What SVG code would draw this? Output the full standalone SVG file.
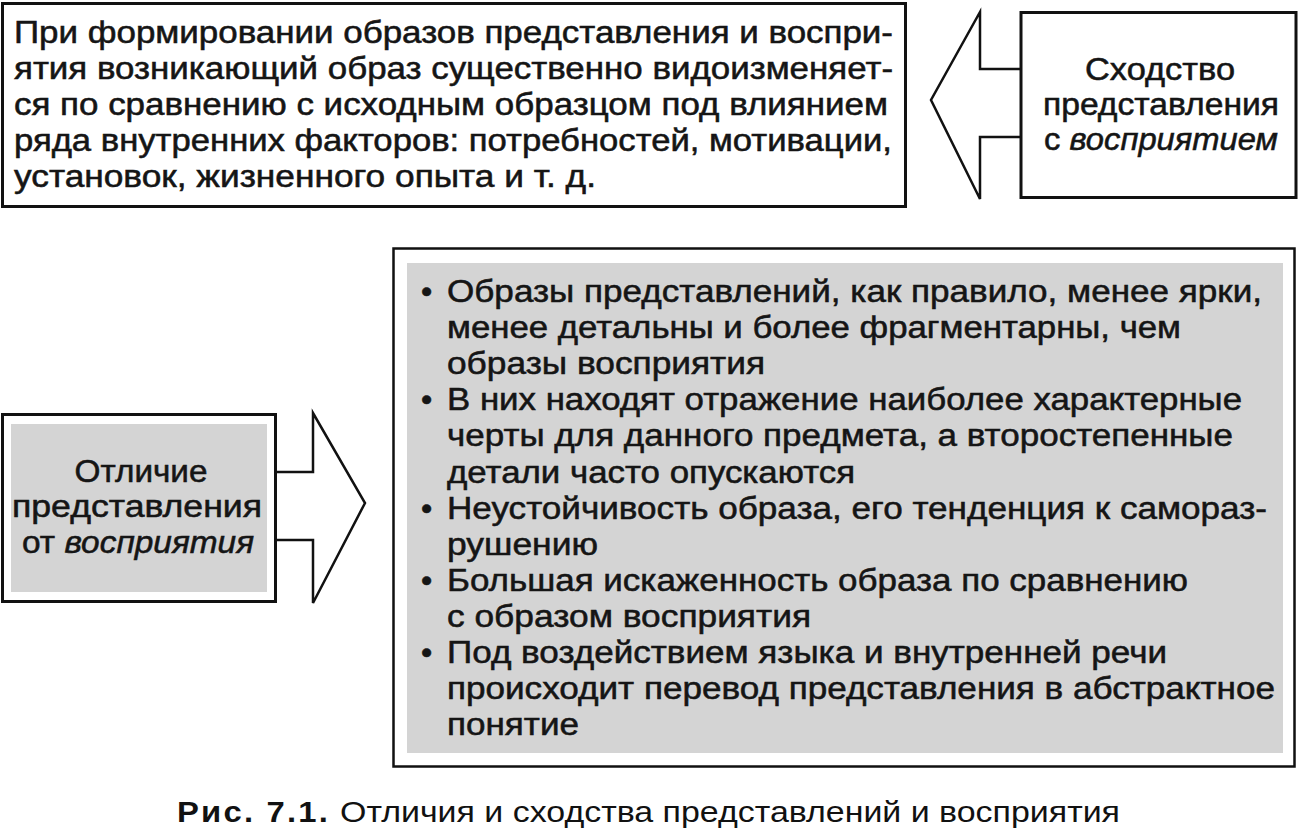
<svg xmlns="http://www.w3.org/2000/svg" width="1299" height="837" viewBox="0 0 1299 837">
<style>
.t{font-family:"Liberation Sans",Arial,sans-serif;font-size:32px;fill:#151515;stroke:#151515;stroke-width:0.55}
.c{text-anchor:middle}
.i{font-style:italic}
.box{fill:#fff;stroke:#111;stroke-width:3}
.gray{fill:#d4d4d4;stroke:none}
.arr{fill:#fff;stroke:#111;stroke-width:2.5;stroke-linejoin:miter}
.cap{font-family:"Liberation Sans",Arial,sans-serif;font-size:30px;fill:#111}
</style>
<rect width="1299" height="837" fill="#fff"/>
<g id="connectors">
<polygon class="arr" points="1022,69 980,69 980,12 931,100 980,199 980,137 1022,137"/>
<polygon class="arr" points="275,472 313,472 313,413 365,503 313,603 313,540 275,540"/>
</g>
<g id="top-text-box">
<rect class="box" x="2.5" y="3.5" width="903" height="203"/>
<text class="t" x="14" y="43" textLength="879" lengthAdjust="spacingAndGlyphs">При формировании образов представления и воспри-</text>
<text class="t" x="14" y="79" textLength="879" lengthAdjust="spacingAndGlyphs">ятия возникающий образ существенно видоизменяет-</text>
<text class="t" x="14" y="115" textLength="874" lengthAdjust="spacingAndGlyphs">ся по сравнению с исходным образцом под влиянием</text>
<text class="t" x="14" y="151" textLength="878" lengthAdjust="spacingAndGlyphs">ряда внутренних факторов: потребностей, мотивации,</text>
<text class="t" x="14" y="187" textLength="582" lengthAdjust="spacingAndGlyphs">установок, жизненного опыта и т. д.</text>
</g>
<g id="similarity">
<rect class="box" x="1021" y="12.5" width="275" height="185"/>
<text class="t c" x="1160" y="80" textLength="150" lengthAdjust="spacingAndGlyphs">Сходство</text>
<text class="t c" x="1161" y="115" textLength="236" lengthAdjust="spacingAndGlyphs">представления</text>
<text class="t c" x="1161" y="150" textLength="234" lengthAdjust="spacingAndGlyphs">с <tspan class="i">восприятием</tspan></text>
</g>
<g id="difference">
<rect class="box" x="2.5" y="414.5" width="273" height="187"/>
<rect class="gray" x="11" y="424" width="256" height="168"/>
<text class="t c" x="141" y="482" textLength="133" lengthAdjust="spacingAndGlyphs">Отличие</text>
<text class="t c" x="137" y="517" textLength="250" lengthAdjust="spacingAndGlyphs">представления</text>
<text class="t c" x="138" y="553" textLength="232" lengthAdjust="spacingAndGlyphs">от <tspan class="i">восприятия</tspan></text>
</g>
<g id="features">
<rect class="box" x="393.5" y="248.5" width="901" height="518" style="stroke-width:2.5"/>
<rect class="gray" x="407" y="263" width="876" height="490"/>
<text class="t" x="421" y="302">•</text>
<text class="t" x="447" y="302" textLength="815" lengthAdjust="spacingAndGlyphs">Образы представлений, как правило, менее ярки,</text>
<text class="t" x="447" y="338" textLength="734" lengthAdjust="spacingAndGlyphs">менее детальны и более фрагментарны, чем</text>
<text class="t" x="447" y="374" textLength="318" lengthAdjust="spacingAndGlyphs">образы восприятия</text>
<text class="t" x="421" y="410">•</text>
<text class="t" x="447" y="410" textLength="795" lengthAdjust="spacingAndGlyphs">В них находят отражение наиболее характерные</text>
<text class="t" x="447" y="446" textLength="786" lengthAdjust="spacingAndGlyphs">черты для данного предмета, а второстепенные</text>
<text class="t" x="447" y="483" textLength="408" lengthAdjust="spacingAndGlyphs">детали часто опускаются</text>
<text class="t" x="421" y="519">•</text>
<text class="t" x="447" y="519" textLength="820" lengthAdjust="spacingAndGlyphs">Неустойчивость образа, его тенденция к самораз-</text>
<text class="t" x="447" y="555" textLength="151" lengthAdjust="spacingAndGlyphs">рушению</text>
<text class="t" x="421" y="591">•</text>
<text class="t" x="447" y="591" textLength="741" lengthAdjust="spacingAndGlyphs">Большая искаженность образа по сравнению</text>
<text class="t" x="447" y="627" textLength="364" lengthAdjust="spacingAndGlyphs">с образом восприятия</text>
<text class="t" x="421" y="663">•</text>
<text class="t" x="447" y="663" textLength="720" lengthAdjust="spacingAndGlyphs">Под воздействием языка и внутренней речи</text>
<text class="t" x="447" y="699" textLength="828" lengthAdjust="spacingAndGlyphs">происходит перевод представления в абстрактное</text>
<text class="t" x="447" y="735" textLength="132" lengthAdjust="spacingAndGlyphs">понятие</text>
</g>
<g id="caption">
<text class="cap" x="177" y="822" font-weight="bold" letter-spacing="2" textLength="153" lengthAdjust="spacingAndGlyphs">Рис. 7.1.</text>
<text class="cap" x="340" y="822" textLength="780" lengthAdjust="spacingAndGlyphs">Отличия и сходства представлений и восприятия</text>
</g>
</svg>
